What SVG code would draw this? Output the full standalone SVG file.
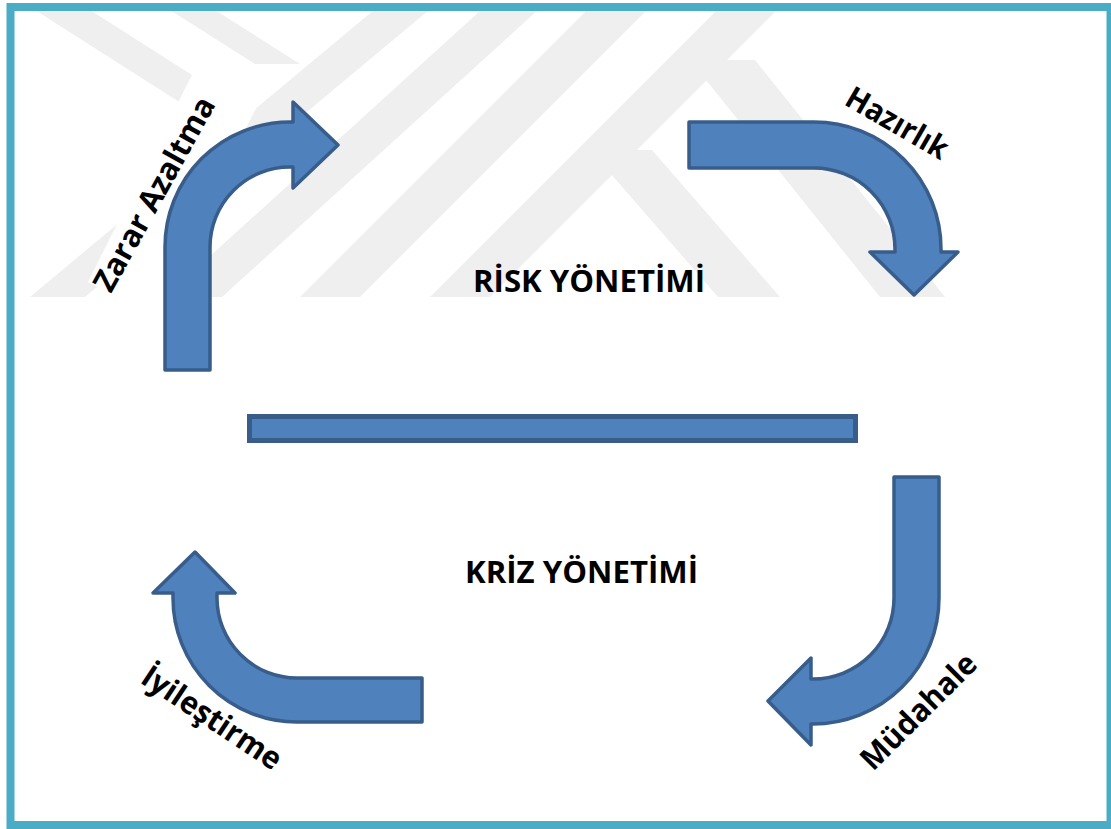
<svg xmlns="http://www.w3.org/2000/svg" width="1111" height="829" viewBox="0 0 1111 829">
  <style>
    .wm { fill: #efefef; }
    .arrow { fill: #4f81bd; stroke: #385d8a; stroke-width: 3.5; stroke-linejoin: round; }
    .bar { fill: #4f81bd; stroke: #385d8a; stroke-width: 5; }
    .title { font-family: "Open Sans", "Liberation Sans", sans-serif; font-weight: bold; font-size: 30px; fill: #000; }
    .label { font-family: "Open Sans", "Liberation Sans", sans-serif; font-weight: bold; font-size: 31px; fill: #000; }
  </style>
  <defs>
    <clipPath id="wmclip"><rect x="15" y="10" width="1092" height="287"/></clipPath>
  </defs>
  <rect x="0" y="0" width="1111" height="829" fill="#ffffff"/>

  <g id="watermark" clip-path="url(#wmclip)">
    <polygon class="wm" points="30,297 85,297 429,10 374,10"/>
    <polygon class="wm" points="165,297 222,297 538,10 481,10"/>
    <polygon class="wm" points="300,297 360,297 647,10 587,10"/>
    <polygon class="wm" points="430,297 490,297 777,10 717,10"/>
    <polygon class="wm" points="35,10 90,10 250,112 195,112"/>
    <polygon class="wm" points="170,10 215,10 300,64 255,64"/>
    <polygon class="wm" points="590,150 652,150 780,297 718,297"/>
    <polygon class="wm" points="690,60 755,60 945,297 880,297"/>
  </g>

  <rect id="frame" x="10.5" y="7" width="1100" height="818" fill="none" stroke="#4bacc6" stroke-width="8"/>

  <g id="label-zarar-box">
    <polygon points="88,282 208,43 273,75 152,314" fill="#ffffff"/>
  </g>

  <g id="connectors">
    <rect id="divider" class="bar" x="249.5" y="416.5" width="606" height="24"/>
  </g>

  <g id="arrow-zarar-azaltma">
    <path class="arrow" d="M165,370 L165,247 A125,125 0 0 1 290,122 L293,122 L293,102 L338,145 L293,188 L293,167 L290,167 A80,80 0 0 0 210,247 L210,370 Z"/>
    <text class="label" transform="translate(111,294) rotate(-61)" textLength="217" lengthAdjust="spacingAndGlyphs">Zarar Azaltma</text>
  </g>

  <g id="arrow-hazirlik">
    <path class="arrow" d="M689,122 L814,122 A127,127 0 0 1 941,249 L941,252 L958,252 L914,295 L870,252 L895,252 L895,249 A81,81 0 0 0 814,168 L689,168 Z"/>
    <text class="label" transform="translate(843,104) rotate(30)" textLength="113" lengthAdjust="spacingAndGlyphs">Hazırlık</text>
  </g>

  <g id="arrow-mudahale">
    <path class="arrow" d="M894,477 L939,477 L939,598 A126,126 0 0 1 813,724 L811,724 L811,745 L768,701 L811,658 L811,679 L813,679 A81,81 0 0 0 894,598 Z"/>
    <text class="label" transform="translate(873,772) rotate(-45)" textLength="150" lengthAdjust="spacingAndGlyphs">Müdahale</text>
  </g>

  <g id="arrow-iyilestirme">
    <path class="arrow" d="M422,678 L422,722 L297,722 A124,124 0 0 1 173,598 L173,593 L153,593 L195,552 L235,593 L217,593 L217,598 A80,80 0 0 0 297,678 Z"/>
    <text class="label" transform="translate(139,682) rotate(33.6)" textLength="161" lengthAdjust="spacingAndGlyphs">İyileştirme</text>
  </g>

  <g id="node-risk">
    <text class="title" x="473" y="292" textLength="232" lengthAdjust="spacingAndGlyphs">RİSK YÖNETİMİ</text>
  </g>
  <g id="node-kriz">
    <text class="title" x="465" y="583" textLength="233" lengthAdjust="spacingAndGlyphs">KRİZ YÖNETİMİ</text>
  </g>
</svg>
